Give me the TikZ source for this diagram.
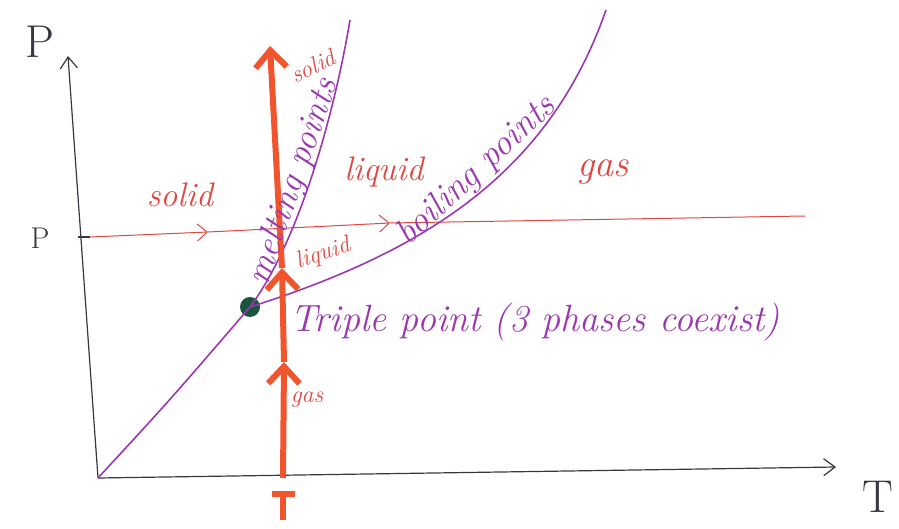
\documentclass[tikz,border=0pt]{standalone}
\usepackage{tikz}
\usetikzlibrary{arrows.meta,positioning}
\definecolor{ink}{RGB}{55,55,65}
\definecolor{pen}{RGB}{225,70,65}
\definecolor{fat}{RGB}{240,85,45}
\definecolor{pur}{RGB}{155,55,175}
\definecolor{dot}{RGB}{25,85,60}
\tikzset{
  axis/.style={ink,line width=1.2pt,-{Straight Barb[length=4mm,width=6mm]}},
  isobar/.style={pen,line width=1pt},
  chev/.style={-{Straight Barb[length=3.5mm,width=6mm]}},
  heat/.style={fat,line width=6pt},
  bigchev/.style={-{Straight Barb[length=6mm,width=11mm]}},
  curve/.style={pur,line width=1.6pt},
  phase/.style={pen,font=\fontsize{34}{38}\selectfont\itshape,inner sep=0pt},
  small/.style={pen,font=\fontsize{24}{28}\selectfont\itshape,inner sep=0pt},
  lbl/.style={pur,font=\fontsize{36}{40}\selectfont\itshape,inner sep=0pt},
  axlbl/.style={ink,font=\fontsize{46}{50}\selectfont,inner sep=0pt},
}
\begin{document}
\begin{tikzpicture}[x=1pt,y=-1pt]
  \useasboundingbox (0,0) rectangle (899,529);
  % axes
  \coordinate (O) at (98,478);
  \coordinate (Ptop) at (68,56);
  \coordinate (Tend) at (836,467);
  \draw[axis] (O) -- (Ptop);
  \draw[axis] (O) -- (Tend);
  \node[axlbl] (Plbl) at (40,42) {P};
  \node[axlbl] (Tlbl) at (878,497) {T};
  % the pressure P and its isobar
  \coordinate (tick) at (78,237);
  \coordinate (Pl) at (90,237);
  \coordinate (ia) at (208,232);
  \coordinate (ib) at (390,223);
  \coordinate (Pr) at (805,216);
  \draw[ink,line width=1.2pt] (tick) -- (Pl);
  \node[ink,font=\fontsize{30}{34}\selectfont,inner sep=0pt] (Pval) at (40,238) {P};
  \draw[isobar,chev] (Pl) -- (ia);
  \draw[isobar,chev] (ia) -- (ib);
  \draw[isobar] (ib) -- (Pr);
  % triple point and the coexistence curves
  \node[circle,fill=dot,minimum size=20pt,inner sep=0pt] (tp) at (250,307) {};
  \coordinate (melt) at (350,20);
  \coordinate (boil) at (606,10);
  \draw[curve] (O) .. controls (170,400) .. (tp.center);
  \draw[curve] (tp.center) .. controls (300,240) and (335,110) .. (melt);
  \draw[curve] (tp.center) .. controls (430,250) and (550,170) .. (boil);
  % heating at fixed T
  \coordinate (Tb) at (283,478);
  \coordinate (ha) at (284,362);
  \coordinate (hb) at (282,268);
  \coordinate (Ttop) at (270,46);
  \draw[heat,bigchev] (Tb) -- (ha);
  \draw[heat,bigchev] (ha) -- (hb);
  \draw[heat,bigchev] (hb) -- (Ttop);
  \draw[heat] (283,492) -- (283,520);
  \draw[heat] (272,494) -- (295,494);
  % phase labels
  \node[phase] (solidA) at (180,195) {solid};
  \node[phase] (liqA) at (384,172) {liquid};
  \node[phase,font=\fontsize{38}{42}\selectfont\itshape] (gasA) at (603,172) {gas};
  \node[small,rotate=25] (solidB) at (313,66) {solid};
  \node[small,rotate=18] (liqB) at (323,254) {liquid};
  \node[small] (gasB) at (307,400) {gas};
  \node[lbl,rotate=71] (mlbl) at (294,182) {melting points};
  \node[lbl,rotate=43] (blbl) at (477,171) {boiling points};
  \node[lbl,anchor=west,font=\fontsize{38}{42}\selectfont\itshape] (tlbl) at (290,322) {Triple point (3 phases coexist)};
\end{tikzpicture}
\end{document}
